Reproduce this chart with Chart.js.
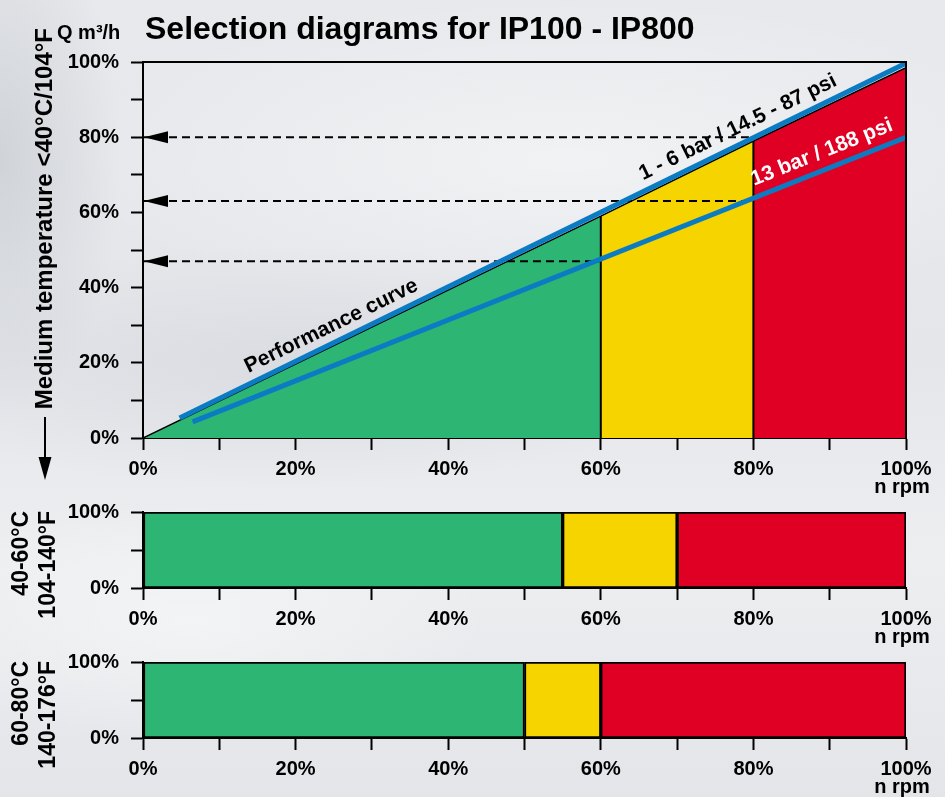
<!DOCTYPE html>
<html lang="en">
<head>
<meta charset="UTF-8">
<title>Selection diagrams for IP100 - IP800</title>
<script src="https://cdn.jsdelivr.net/npm/chart.js"></script>
<style>
    body {
        margin: 0;
        width: 945px;
        height: 797px;
        overflow: hidden;
        position: relative;
        background:
            radial-gradient(ellipse 120px 260px at 0% 20%, rgba(190, 194, 200, 0.55), rgba(190, 194, 200, 0) 100%),
            radial-gradient(ellipse 420px 120px at 30% 46%, rgba(205, 208, 214, 0.45), rgba(205, 208, 214, 0) 100%),
            radial-gradient(ellipse 500px 160px at 60% 20%, rgba(248, 249, 250, 0.6), rgba(248, 249, 250, 0) 100%),
            radial-gradient(ellipse 300px 120px at 20% 78%, rgba(248, 249, 250, 0.6), rgba(248, 249, 250, 0) 100%),
            linear-gradient(180deg, #e7e9ec 0%, #e4e6ea 45%, #eceef0 70%, #e3e5e9 100%);
    }
    canvas { position: absolute; left: 0; }
</style>
</head>
<body>
<canvas id="main" width="945" height="500" style="top:0px"></canvas>
<canvas id="band1" width="945" height="162" style="top:488px"></canvas>
<canvas id="band2" width="945" height="159" style="top:638px"></canvas>
<script>
    // zones: green / yellow / red
    const zoneColors = ['#2db673', '#f5d400', '#e00024'];

    // performance curve (n rpm % -> Q %), split at the zone limits
    const perfX = [0, 60, 80, 100];
    const perfY = [0, 59, 79, 98.5];

    // pressure lines
    const lowBarX = [4.8, 100];
    const lowBarY = [5.3, 99.7];
    const highBarX = [6.5, 100];
    const highBarY = [4.3, 80];

    // dashed read-off arrows
    const arrowFromX = [80, 80, 60];
    const arrowY = [80, 63, 47];

    // temperature bands, zone limits in n rpm %
    const band4060 = [0, 55, 70, 100];
    const band6080 = [0, 50, 60, 100];

    const mainYLabels = [0, 20, 40, 60, 80, 100];
    const bandYLabels = [0, 100];

    Chart.defaults.font.family = '"Liberation Sans", Arial, sans-serif';
    Chart.defaults.font.size = 20;
    Chart.defaults.font.weight = 'bold';
    Chart.defaults.color = '#000';
    Chart.defaults.animation = false;

    const FONT = '"Liberation Sans", Arial, sans-serif';

    function xAxis(height) {
        return {
            type: 'linear', min: 0, max: 100, offset: false,
            ticks: {
                stepSize: 10, padding: 7, maxRotation: 0, autoSkip: false,
                callback: v => v % 20 === 0 ? v + '%' : ''
            },
            grid: { offset: false, drawOnChartArea: false, tickLength: 12, tickColor: '#000', tickWidth: 2 },
            border: { color: '#000', width: 2 },
            afterFit: s => { s.height = height; }
        };
    }

    function yAxis(step, labelled) {
        return {
            type: 'linear', min: 0, max: 100, position: 'left', offset: false,
            ticks: {
                stepSize: step, padding: 12, autoSkip: false,
                callback: v => labelled.includes(v) ? v + '%' : ''
            },
            grid: { offset: false, drawOnChartArea: false, tickLength: 12, tickColor: '#000', tickWidth: 2 },
            border: { color: '#000', width: 2 },
            afterFit: s => { s.width = 143; }
        };
    }

    function pts(xs, ys) {
        return xs.map((v, i) => ({ x: v, y: ys[i] }));
    }

    function labelAlong(ctx, x, y, xs, ys, at, text, color, off) {
        const x0 = x.getPixelForValue(xs[0]), y0 = y.getPixelForValue(ys[0]);
        const x1 = x.getPixelForValue(xs[1]), y1 = y.getPixelForValue(ys[1]);
        const t = (at - xs[0]) / (xs[1] - xs[0]);
        ctx.save();
        ctx.translate(x0 + (x1 - x0) * t, y0 + (y1 - y0) * t);
        ctx.rotate(Math.atan2(y1 - y0, x1 - x0));
        ctx.fillStyle = color;
        ctx.textAlign = 'center';
        ctx.textBaseline = 'middle';
        ctx.font = 'bold 21px ' + FONT;
        ctx.fillText(text, 0, -off);
        ctx.restore();
    }

    function rpmLabel(chart) {
        const { ctx, chartArea: a, scales: { x } } = chart;
        ctx.save();
        ctx.fillStyle = '#000';
        ctx.font = 'bold 20px ' + FONT;
        ctx.textAlign = 'center';
        ctx.textBaseline = 'alphabetic';
        ctx.fillText('n rpm', x.getPixelForValue(100) - 4, a.bottom + 55);
        ctx.restore();
    }

    const mainDecor = {
        id: 'mainDecor',
        afterDatasetsDraw(chart) {
            const { ctx, chartArea: a, scales: { x, y } } = chart;
            ctx.save();
            ctx.strokeStyle = '#000';
            ctx.lineWidth = 2;
            ctx.beginPath();
            ctx.moveTo(a.left, a.top);
            ctx.lineTo(a.right, a.top);
            ctx.lineTo(a.right, a.bottom);
            ctx.stroke();

            ctx.fillStyle = '#000';
            arrowY.forEach(v => {
                const px = x.getPixelForValue(0) + 1, py = y.getPixelForValue(v);
                ctx.beginPath();
                ctx.moveTo(px, py);
                ctx.lineTo(px + 24, py - 6);
                ctx.lineTo(px + 24, py + 6);
                ctx.closePath();
                ctx.fill();
            });
            ctx.restore();

            labelAlong(ctx, x, y, lowBarX, lowBarY, 25.6, 'Performance curve', '#000', 16);
            labelAlong(ctx, x, y, lowBarX, lowBarY, 78.9, '1 - 6 bar / 14.5 - 87 psi', '#000', 16);
            labelAlong(ctx, x, y, highBarX, highBarY, 89.8, '13 bar / 188 psi', '#fff', 17);
        },
        afterDraw(chart) {
            const { ctx, chartArea: a } = chart;
            ctx.save();
            ctx.fillStyle = '#000';
            ctx.textBaseline = 'alphabetic';
            ctx.textAlign = 'left';
            ctx.font = 'bold 32px ' + FONT;
            ctx.fillText('Selection diagrams for IP100 - IP800', 145, 39);
            ctx.font = 'bold 20px ' + FONT;
            ctx.fillText('Q m³/h', 57, 39);

            ctx.save();
            ctx.translate(52, 28);
            ctx.rotate(-Math.PI / 2);
            ctx.textAlign = 'right';
            ctx.font = 'bold 24px ' + FONT;
            ctx.fillText('Medium temperature <40°C/104°F', 0, 0);
            ctx.restore();

            // downward arrow under the axis title
            ctx.strokeStyle = '#000';
            ctx.lineWidth = 2;
            ctx.beginPath();
            ctx.moveTo(45, a.bottom - 21);
            ctx.lineTo(45, a.bottom + 22);
            ctx.stroke();
            ctx.beginPath();
            ctx.moveTo(45, a.bottom + 42);
            ctx.lineTo(38.5, a.bottom + 19);
            ctx.lineTo(51.5, a.bottom + 19);
            ctx.closePath();
            ctx.fill();
            ctx.restore();

            rpmLabel(chart);
        }
    };

    const mainSets = [];
    for (let i = 0; i < 3; i++) {
        mainSets.push({
            data: pts(perfX.slice(i, i + 2), perfY.slice(i, i + 2)),
            fill: 'origin', backgroundColor: zoneColors[i],
            borderColor: '#000', borderWidth: 1.5, order: 4
        });
    }
    for (let i = 1; i < perfX.length; i++) {
        mainSets.push({
            data: pts([perfX[i], perfX[i]], [0, perfY[i]]),
            borderColor: '#000', borderWidth: 2, order: 3
        });
    }
    arrowY.forEach((v, i) => {
        mainSets.push({
            data: pts([0, arrowFromX[i]], [v, v]),
            borderColor: '#000', borderWidth: 2, borderDash: [8, 5], order: 2
        });
    });
    mainSets.push({ data: pts(lowBarX, lowBarY), borderColor: '#0b7cc3', borderWidth: 5, order: 1 });
    mainSets.push({ data: pts(highBarX, highBarY), borderColor: '#0b7cc3', borderWidth: 5, order: 1 });

    new Chart('main', {
        type: 'line',
        data: { datasets: mainSets },
        options: {
            responsive: false,
            layout: { padding: { top: 62, right: 39, left: 0, bottom: 0 } },
            elements: { point: { radius: 0 }, line: { tension: 0 } },
            plugins: { legend: { display: false }, tooltip: { enabled: false } },
            scales: { x: xAxis(62), y: yAxis(10, mainYLabels) }
        },
        plugins: [mainDecor]
    });

    function bandChart(id, limits, line1, line2, xHeight) {
        const decor = {
            id: 'bandDecor',
            afterDraw(chart) {
                const { ctx, chartArea: a } = chart;
                ctx.save();
                ctx.fillStyle = '#000';
                ctx.font = 'bold 23px ' + FONT;
                ctx.textAlign = 'right';
                ctx.textBaseline = 'alphabetic';
                [[28, line1], [55, line2]].forEach(([bx, txt]) => {
                    ctx.save();
                    ctx.translate(bx, a.top - 1);
                    ctx.rotate(-Math.PI / 2);
                    ctx.fillText(txt, 0, 0);
                    ctx.restore();
                });
                ctx.restore();
                rpmLabel(chart);
            }
        };
        return new Chart(id, {
            type: 'bar',
            data: {
                labels: [''],
                datasets: zoneColors.map((c, i) => ({
                    data: [[limits[i], limits[i + 1]]],
                    backgroundColor: c, borderColor: '#000', borderWidth: 2,
                    borderSkipped: false, grouped: false,
                    barPercentage: 1, categoryPercentage: 1,
                    xAxisID: 'x', yAxisID: 'yb'
                }))
            },
            options: {
                responsive: false,
                indexAxis: 'y',
                layout: { padding: { top: 0, right: 39, left: 0, bottom: 0 } },
                plugins: { legend: { display: false }, tooltip: { enabled: false } },
                scales: {
                    x: xAxis(xHeight),
                    yb: { type: 'category', display: false },
                    y: yAxis(50, bandYLabels)
                }
            },
            plugins: [decor]
        });
    }

    bandChart('band1', band4060, '40-60°C', '104-140°F', 62);
    bandChart('band2', band6080, '60-80°C', '140-176°F', 59);
</script>
</body>
</html>
